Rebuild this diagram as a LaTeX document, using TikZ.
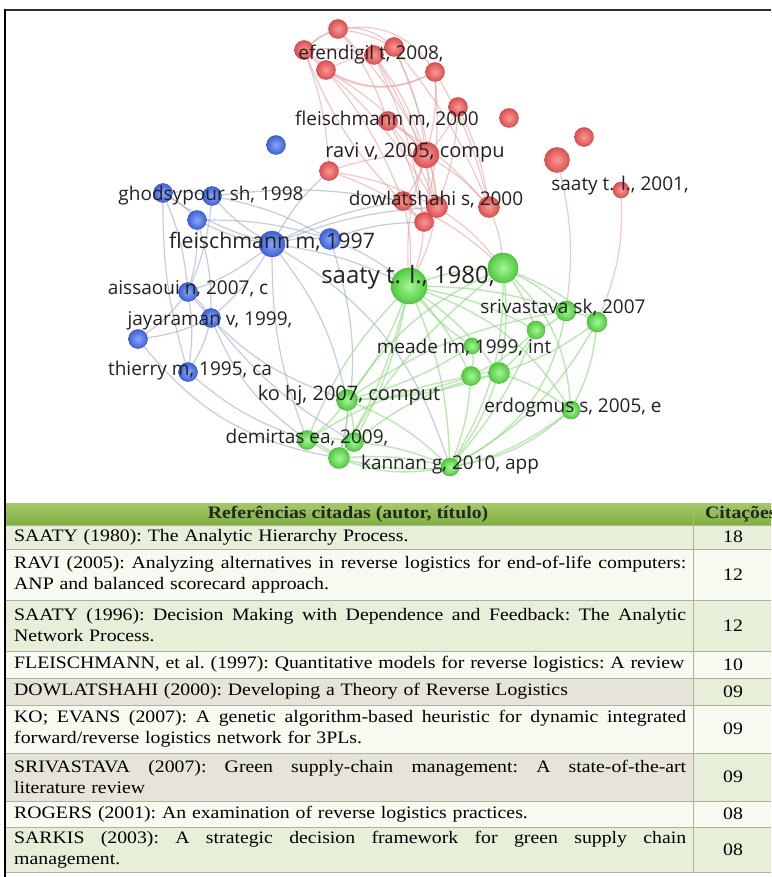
\documentclass[tikz,border=0pt]{standalone}
\usepackage{fontspec}
\setmainfont{Liberation Serif}
\newfontfamily\labelfont{Open Sans}
\newfontfamily\tablefont[FakeStretch=1.13]{Liberation Serif}
\pgfdeclarelayer{bg}
\pgfdeclarelayer{edges}
\pgfsetlayers{bg,edges,main}

\definecolor{redin}{HTML}{F59A98}
\definecolor{redout}{HTML}{DF4F4E}
\definecolor{redrim}{HTML}{C84444}
\definecolor{bluein}{HTML}{8CA6F5}
\definecolor{blueout}{HTML}{3C62DA}
\definecolor{bluerim}{HTML}{3354C0}
\definecolor{greenin}{HTML}{A6F59A}
\definecolor{greenout}{HTML}{4FCB3C}
\definecolor{greenrim}{HTML}{43B032}
\definecolor{redlinkc}{HTML}{E8A3A3}
\definecolor{bluelinkc}{HTML}{9DAACB}
\definecolor{greenlinkc}{HTML}{92DE85}
\definecolor{labelc}{HTML}{222222}
\definecolor{headtop}{HTML}{A3C969}
\definecolor{headbot}{HTML}{80B03E}
\definecolor{gridc}{HTML}{A9B59B}
\definecolor{rowgreen}{HTML}{E7EFD9}
\definecolor{rowwhite}{HTML}{F8FAF1}
\definecolor{rowbeige}{HTML}{E6E4D8}
\definecolor{framec}{HTML}{2E2E2E}

\tikzset{
  x=1pt, y=-1pt,
  ball/.style={circle, inner sep=0pt, line width=0.4pt},
  rnode/.style={ball, inner color=redin, outer color=redout, draw=redrim},
  bnode/.style={ball, inner color=bluein, outer color=blueout, draw=bluerim},
  gnode/.style={ball, inner color=greenin, outer color=greenout, draw=greenrim},
  rlink/.style={draw=redlinkc, line width=1.2pt, opacity=0.6, bend left=8},
  blink/.style={draw=bluelinkc, line width=1.2pt, opacity=0.6, bend left=8},
  glink/.style={draw=greenlinkc, line width=1.4pt, opacity=0.65, bend left=8},
  lab/.style={font=\labelfont\fontsize{19}{22}\selectfont, text=labelc, inner sep=0pt},
  labmid/.style={font=\labelfont\fontsize{20}{23}\selectfont, text=labelc, inner sep=0pt},
  labbig/.style={font=\labelfont\fontsize{21.3}{24}\selectfont, text=labelc, inner sep=0pt},
  labhuge/.style={font=\labelfont\fontsize{24}{27}\selectfont, text=labelc, inner sep=0pt},
  cell/.style={anchor=west, inner sep=0pt, align=left, text width=672pt,
    font=\tablefont\fontsize{17.5}{21}\selectfont\frenchspacing},
  num/.style={inner sep=0pt, font=\tablefont\fontsize{17.5}{21}\selectfont},
  head/.style={inner sep=0pt, font=\tablefont\bfseries\fontsize{17.5}{20}\selectfont, text=black!85},
}

% a line whose word spaces are stretched to the full cell width
\newcommand{\jline}[1]{\hbox to 672pt{\spaceskip=0.25em plus 1fil\relax #1}}

\begin{document}
\begin{tikzpicture}
\useasboundingbox (0,0) rectangle (771,877);
\clip (0,0) rectangle (771,877);
\begin{pgfonlayer}{bg}
\fill[white] (0,0) rectangle (771,877);
\end{pgfonlayer}

% ---------- network nodes: red cluster ----------
\node[rnode, minimum size=19pt] (r1) at (338,29) {};
\node[rnode, minimum size=19pt] (r2) at (304,50) {};
\node[rnode, minimum size=19pt] (r3) at (374,55) {};
\node[rnode, minimum size=19pt] (r4) at (394,47) {};
\node[rnode, minimum size=19pt] (r5) at (326,70) {};
\node[rnode, minimum size=19pt] (r6) at (435,72) {};
\node[rnode, minimum size=19pt] (r7) at (458,107) {};
\node[rnode, minimum size=19pt] (r8) at (388,121) {};
\node[rnode, minimum size=26pt] (r9) at (426,155) {};
\node[rnode, minimum size=19pt] (r10) at (329,171) {};
\node[rnode, minimum size=19pt] (r11) at (509,118) {};
\node[rnode, minimum size=19pt] (r12) at (584,137) {};
\node[rnode, minimum size=25pt] (r13) at (557,160) {};
\node[rnode, minimum size=16pt] (r14) at (621,190) {};
\node[rnode, minimum size=19pt] (r15) at (403,201) {};
\node[rnode, minimum size=21pt] (r16) at (437,207) {};
\node[rnode, minimum size=21pt] (r17) at (489,207) {};
\node[rnode, minimum size=19pt] (r18) at (424,222) {};

% ---------- blue cluster ----------
\node[bnode, minimum size=19pt] (b1) at (276,145) {};
\node[bnode, minimum size=19pt] (b2) at (163,193) {};
\node[bnode, minimum size=19pt] (b3) at (212,196) {};
\node[bnode, minimum size=19pt] (b4) at (197,220) {};
\node[bnode, minimum size=26pt] (b5) at (272,244) {};
\node[bnode, minimum size=21pt] (b6) at (330,239) {};
\node[bnode, minimum size=19pt] (b7) at (188,292) {};
\node[bnode, minimum size=19pt] (b8) at (211,318) {};
\node[bnode, minimum size=19pt] (b9) at (138,339) {};
\node[bnode, minimum size=19pt] (b10) at (188,372) {};

% ---------- green cluster ----------
\node[gnode, minimum size=36pt] (g1) at (409,286) {};
\node[gnode, minimum size=30pt] (g2) at (503,268) {};
\node[gnode, minimum size=20pt] (g3) at (566,311) {};
\node[gnode, minimum size=20pt] (g4) at (597,322) {};
\node[gnode, minimum size=18pt] (g5) at (536,330) {};
\node[gnode, minimum size=16pt] (g6) at (472,346) {};
\node[gnode, minimum size=19pt] (g7) at (471,376) {};
\node[gnode, minimum size=21pt] (g8) at (499,373) {};
\node[gnode, minimum size=21pt] (g9) at (347,400) {};
\node[gnode, minimum size=18pt] (g10) at (571,410) {};
\node[gnode, minimum size=19pt] (g11) at (307,440) {};
\node[gnode, minimum size=19pt] (g12) at (354,442) {};
\node[gnode, minimum size=21pt] (g13) at (339,458) {};
\node[gnode, minimum size=18pt] (g14) at (450,467) {};

% ---------- links ----------
\begin{pgfonlayer}{edges}
% red links
\draw[rlink] (r2) to[bend right=35] (r6);
\draw[rlink] (r1) to[bend left=30] (r6);
\draw[rlink] (r5) to[bend right=25] (r6);
\draw[rlink] (r2) to[bend left=40] (r4);
\foreach \a/\b in {r2/r1, r1/r4, r2/r3, r2/r5, r5/r3,
  r3/r9, r4/r9, r5/r9, r6/r9, r3/r16, r4/r17, r1/r8, r2/r10,
  r5/r15, r8/r9, r8/r16, r8/r17, r7/r9, r7/r17, r6/r18, r9/r15, r9/r16,
  r9/r17, r9/r18, r10/r9, r10/r16, r15/g1, r16/g1, r18/g1, r17/g2, r16/g2,
  r3/r18, r4/r16, r1/r9, r5/r16, r7/r16, r8/r18, r6/r17, r10/r18, r15/g2}
  \draw[rlink] (\a) to (\b);
\draw[rlink] (r14) to[bend left=12] (g4);
\draw[rlink] (r13) to[bend left=10] (g3);
\draw[rlink] (r9) to[bend right=10] (g1);
\draw[rlink] (r2) to[bend right=12] (r18);
% blue links
\foreach \a/\b in {b5/b2, b5/b3, b5/b4, b5/b6, b5/b7, b5/b8, b5/r10, b5/r15,
  b5/r16, b5/g1, b2/b7, b3/b7, b4/b7, b4/b8, b7/b8, b7/b9, b8/b9, b8/b10,
  b3/r15, b4/b6, b6/r18, b3/b6, b2/b4, b7/b10, b6/g1, b2/b3}
  \draw[blink] (\a) to (\b);
\draw[blink] (b2) to[bend right=8] (b10);
\draw[blink] (b5) to[bend left=12] (g9);
\draw[blink] (b5) to[bend right=10] (g11);
\draw[blink] (b7) to[bend right=15] (g9);
\draw[blink] (b8) to[bend right=15] (g11);
\draw[blink] (b10) to[bend right=10] (g11);
\draw[blink] (b9) to[bend right=20] (g13);
\draw[blink] (b5) to[bend left=20] (g14);
\draw[blink] (b8) to[bend right=10] (g12);
\draw[blink] (b6) to[bend left=15] (g13);
% green links
\foreach \a/\b in {g1/g9, g1/g12, g1/g7, g1/g8, g1/g5, g1/g3, g1/g2, g2/g3,
  g2/g4, g2/g5, g2/g8, g3/g4, g3/g5, g5/g8, g4/g8, g7/g8, g7/g9, g8/g9,
  g9/g11, g9/g12, g9/g13, g11/g12, g12/g13, g13/g14, g6/g7, g6/g1, g5/g7,
  g6/g9, g8/g14, g12/g14, g11/g13, g5/g14}
  \draw[glink] (\a) to (\b);
\draw[glink] (g1) to[bend right=10] (g11);
\draw[glink] (g1) to[bend left=8] (g13);
\draw[glink] (g1) to[bend left=10] (g14);
\draw[glink] (g2) to[bend left=15] (g14);
\draw[glink] (g2) to[bend left=20] (g10);
\draw[glink] (g4) to[bend left=10] (g10);
\draw[glink] (g8) to (g10);
\draw[glink] (g10) to[bend left=15] (g14);
\draw[glink] (g7) to[bend right=10] (g11);
\draw[glink] (g8) to[bend right=12] (g12);
\draw[glink] (g7) to (g14);
\draw[glink] (g11) to[bend right=20] (g14);
\draw[glink] (g9) to[bend left=10] (g14);
\draw[glink] (g3) to[bend left=25] (g14);
\draw[glink] (g2) to[bend right=15] (g9);
\draw[glink] (g2) to[bend right=10] (g13);
\draw[glink] (g3) to[bend right=12] (g9);
\draw[glink] (g4) to[bend left=15] (g14);
\draw[glink] (g1) to[bend left=18] (g10);
\draw[glink] (g13) to[bend right=25] (g10);
\end{pgfonlayer}

% ---------- labels ----------
\node[lab] (l1) at (371,55) {efendigil t, 2008,};
\node[lab] (l2) at (387,119) {fleischmann m, 2000};
\node[labmid] (l3) at (415,153) {ravi v, 2005, compu};
\node[lab] (l4) at (620,186) {saaty t. l., 2001,};
\node[lab] (l5) at (211,196) {ghodsypour sh, 1998};
\node[lab] (l6) at (436,200) {dowlatshahi s, 2000};
\node[labbig] (l7) at (272,242) {fleischmann m, 1997};
\node[labhuge] (l8) at (408,277) {saaty t. l., 1980,};
\node[lab] (l9) at (188,289) {aissaoui n, 2007, c};
\node[lab] (l10) at (563,308) {srivastava sk, 2007};
\node[lab] (l11) at (210,321) {jayaraman v, 1999,};
\node[lab] (l12) at (464,348) {meade lm, 1999, int};
\node[lab] (l13) at (190,371) {thierry m, 1995, ca};
\node[labmid] (l14) at (349,395) {ko hj, 2007, comput};
\node[lab] (l15) at (573,408) {erdogmus s, 2005, e};
\node[lab] (l16) at (307,438) {demirtas ea, 2009,};
\node[lab] (l17) at (450,465) {kannan g, 2010, app};

% ---------- table ----------
\shade[top color=headtop, bottom color=headbot] (5,503) rectangle (771,525);
\fill[rowgreen] (5,525) rectangle (771,549);
\fill[rowwhite] (5,549) rectangle (771,600);
\fill[rowgreen] (5,600) rectangle (771,651);
\fill[rowwhite] (5,651) rectangle (771,678);
\fill[rowbeige] (5,678) rectangle (693,705);
\fill[rowgreen] (693,678) rectangle (771,705);
\fill[rowwhite] (5,705) rectangle (771,753);
\fill[rowbeige] (5,753) rectangle (693,801);
\fill[rowgreen] (693,753) rectangle (771,801);
\fill[rowwhite] (5,801) rectangle (771,827);
\fill[rowgreen] (5,827) rectangle (771,872);
\foreach \yy in {525,549,600,651,678,705,753,801,827,872}
  \draw[gridc, line width=0.8pt] (5,\yy) -- (771,\yy);
\draw[gridc, line width=0.8pt] (693,503) -- (693,872);

\node[head] (h1) at (348,514) {Referências citadas (autor, título)};
\node[head, anchor=west] (h2) at (705,514) {Citações};

\node[cell] (t1) at (14,537) {SAATY (1980): The Analytic Hierarchy Process.};
\node[cell] (t2) at (14,574.5) {\jline{RAVI (2005): Analyzing alternatives in reverse logistics for end-of-life computers:}\\ANP and balanced scorecard approach.};
\node[cell] (t3) at (14,625.5) {\jline{SAATY (1996): Decision Making with Dependence and Feedback: The Analytic}\\Network Process.};
\node[cell] (t4) at (14,664.5) {FLEISCHMANN, et al. (1997): Quantitative models for reverse logistics: A review};
\node[cell] (t5) at (14,691.5) {DOWLATSHAHI (2000): Developing a Theory of Reverse Logistics};
\node[cell] (t6) at (14,729) {\jline{KO; EVANS (2007): A genetic algorithm-based heuristic for dynamic integrated}\\forward/reverse logistics network for 3PLs.};
\node[cell] (t7) at (14,777) {\jline{SRIVASTAVA (2007): Green supply-chain management: A state-of-the-art}\\literature review};
\node[cell] (t8) at (14,814) {ROGERS (2001): An examination of reverse logistics practices.};
\node[cell] (t9) at (14,849.5) {\jline{SARKIS (2003): A strategic decision framework for green supply chain}\\management.};

\node[num] (n1) at (733,537) {18};
\node[num] (n2) at (733,574.5) {12};
\node[num] (n3) at (733,625.5) {12};
\node[num] (n4) at (733,664.5) {10};
\node[num] (n5) at (733,691.5) {09};
\node[num] (n6) at (733,729) {09};
\node[num] (n7) at (733,777) {09};
\node[num] (n8) at (733,814) {08};
\node[num] (n9) at (733,849.5) {08};

% ---------- frame ----------
\draw[framec, line width=2pt] (5,10) -- (771,10);
\draw[black, line width=1.5pt] (5,9) -- (5,877);
\end{tikzpicture}
\end{document}
